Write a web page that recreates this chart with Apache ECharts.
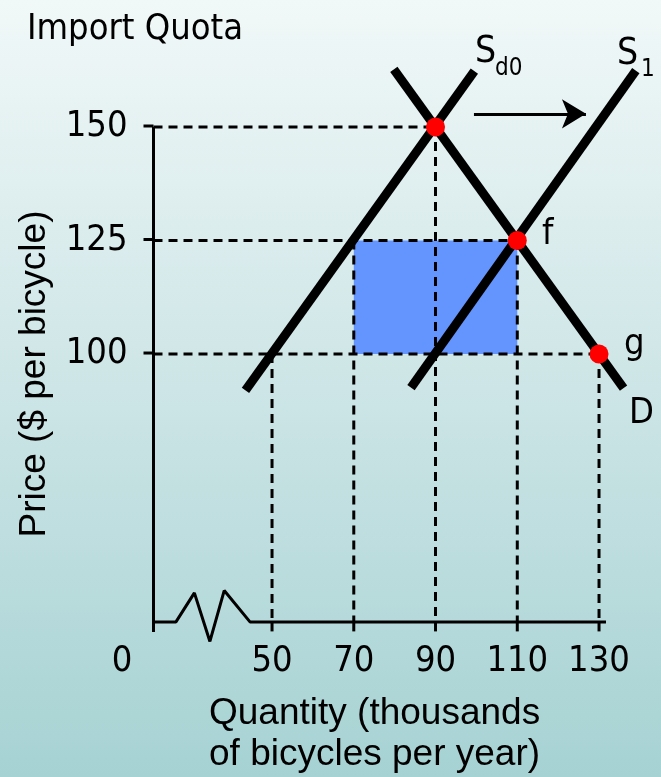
<!DOCTYPE html>
<html>
<head>
<meta charset="utf-8">
<script src="https://cdn.jsdelivr.net/npm/echarts@6/dist/echarts.min.js"></script>
<style>
html,body{margin:0;padding:0;}
#c{width:661px;height:777px;background:linear-gradient(to bottom,#f1f8f8 0%,#cde5e6 50%,#a6d2d3 100%);}
</style>
</head>
<body>
<div id="c"></div>
<script>
// ---- data ----
const qTicks = [50, 70, 90, 110, 130];
const pTicks = [100, 125, 150];
const supplyD0 = [[43.5, 92], [99.5, 162.3]];
const supply1 = [[84, 92.6], [139, 162.4]];
const demand = [[79.8, 162.7], [136, 92.5]];
const eqPoints = [[90, 150], [110, 125], [130, 100]];
const quotaRect = [[70, 125], [110, 100]];
const hDashes = [[150, 90], [125, 110], [100, 130]];          // [price, quantity end]
const vDashes = [[50, 100], [70, 125], [90, 150], [110, 125], [130, 100]]; // [quantity, price top]
const xAxisBreak = [[18.7, 41], [26.5, 41], [31, 47.4], [34.8, 36.7], [38.3, 47.9], [44.6, 41], [131.7, 41]];
const yAxisLine = [[21, 150], [21, 38.8]];
const shiftArrow = [[99.4, 152.9], [126.8, 152.9]];

const Q_MIN = 21, Q_MAX = 140, P_MIN = 41, P_MAX = 165;
const tickFont = 'DejaVu Sans Condensed, DejaVu Sans';
const titleFont = 'Liberation Sans, Arial';

const chart = echarts.init(document.getElementById('c'), null, {renderer: 'canvas'});

const series = [];
hDashes.forEach(([p, q]) => series.push({
  type: 'line', data: [[Q_MIN, p], [q, p]], symbol: 'none', z: 1, silent: true,
  lineStyle: {color: '#000', width: 3, type: [9, 6]}
}));
vDashes.forEach(([q, p]) => series.push({
  type: 'line', data: [[q, p], [q, P_MIN]], symbol: 'none', z: 1, silent: true,
  lineStyle: {color: '#000', width: 3, type: [9, 6]}
}));
series.push({
  type: 'line', data: [], z: 2, silent: true,
  markArea: {silent: true, itemStyle: {color: '#6495ff', opacity: 1},
    data: [[{coord: quotaRect[0]}, {coord: quotaRect[1]}]]}
});
[supplyD0, supply1, demand].forEach(d => series.push({
  type: 'line', data: d, symbol: 'none', z: 3, silent: true,
  lineStyle: {color: '#000', width: 9, cap: 'butt'}
}));
series.push({
  type: 'line', data: xAxisBreak, symbol: 'none', z: 4, clip: false, silent: true,
  lineStyle: {color: '#000', width: 3}
});
series.push({
  type: 'line', data: yAxisLine, symbol: 'none', z: 4, clip: false, silent: true,
  lineStyle: {color: '#000', width: 3}
});
// tick marks, placed by the axes' scales
series.push({
  type: 'scatter', data: qTicks.map(q => [q, P_MIN]), symbol: 'rect', symbolSize: [3, 9],
  symbolOffset: [0, 5], z: 4, clip: false, silent: true, itemStyle: {color: '#000', opacity: 1}
});
series.push({
  type: 'scatter', data: pTicks.map(p => [Q_MIN, p]), symbol: 'rect', symbolSize: [10, 3],
  symbolOffset: [-5, -1], z: 4, clip: false, silent: true, itemStyle: {color: '#000', opacity: 1}
});
series.push({
  type: 'line', data: [], z: 4, silent: true,
  markLine: {silent: true, symbol: ['none', 'arrow'], symbolSize: [22, 24],
    lineStyle: {color: '#000', width: 3, type: 'solid'}, label: {show: false},
    data: [[{coord: shiftArrow[0]}, {coord: shiftArrow[1]}]]}
});
series.push({
  type: 'scatter', data: eqPoints, symbolSize: 19, z: 5, silent: true,
  itemStyle: {color: '#ff0000', opacity: 1}
});

function txt(text, x, y, size, font, align) {
  return {type: 'text', x: x, y: y, silent: true, z: 10,
    style: {text: text, fill: '#000', font: size + 'px ' + font, textAlign: align || 'left', textVerticalAlign: 'middle'}};
}

chart.setOption({
  animation: false,
  grid: {left: 153.5, right: 21.1, top: 58.9, bottom: 155.1, containLabel: false},
  xAxis: {
    type: 'value', min: Q_MIN, max: Q_MAX,
    splitLine: {show: false}, axisLine: {show: false}, axisTick: {show: false},
    axisLabel: {customValues: qTicks, margin: 22, color: '#000', fontSize: 36, fontFamily: tickFont}
  },
  yAxis: {
    type: 'value', min: P_MIN, max: P_MAX,
    splitLine: {show: false}, axisLine: {show: false}, axisTick: {show: false},
    axisLabel: {customValues: pTicks, margin: 26, color: '#000', fontSize: 36, fontFamily: tickFont}
  },
  series: series,
  graphic: [
    txt('Import Quota', 27, 30, 36, tickFont),
    txt('0', 122, 662, 36, tickFont, 'center'),
    txt('S', 475, 52, 37, tickFont),
    txt('d0', 495, 69, 24, tickFont),
    txt('S', 617, 54, 37, tickFont),
    txt('1', 641, 70, 24, tickFont),
    txt('f', 542, 235, 36, tickFont),
    txt('g', 624, 345, 36, tickFont),
    txt('D', 629, 414, 36, tickFont),
    txt('Quantity (thousands', 209, 714, 37, titleFont),
    txt('of bicycles per year)', 209, 755, 37, titleFont),
    {type: 'text', x: 35, y: 374, rotation: Math.PI / 2, silent: true, z: 10,
     style: {text: 'Price ($ per bicycle)', fill: '#000', font: '37px ' + titleFont, textAlign: 'center', textVerticalAlign: 'middle'}}
  ]
});
</script>
</body>
</html>
